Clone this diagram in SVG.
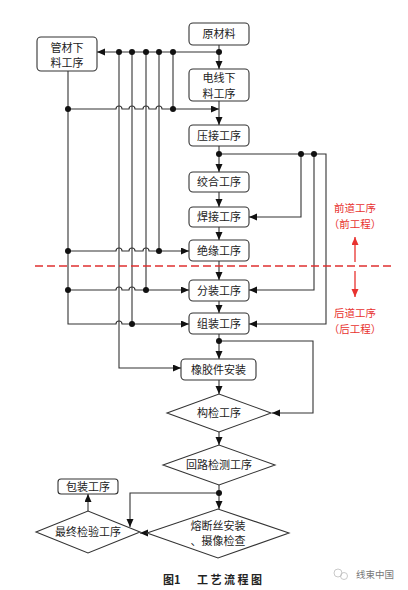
<svg xmlns="http://www.w3.org/2000/svg" width="408" height="590" viewBox="0 0 408 590">
<style>
.bx{fill:#fff;stroke:#333;stroke-width:1.1}
.t{font-family:"Noto Sans CJK SC","Noto Sans",sans-serif;font-size:11px;fill:#222;text-anchor:middle}
.ln{fill:none;stroke:#333;stroke-width:1.1}
.dot{fill:#111}
.red{font-family:"Noto Sans CJK SC","Noto Sans",sans-serif;font-size:10.5px;fill:#e8322f;text-anchor:middle}
</style>
<defs>
<marker id="a" markerUnits="userSpaceOnUse" markerWidth="9" markerHeight="8" refX="8" refY="3.5" orient="auto"><path d="M0,0 L8,3.5 L0,7 z" fill="#111"/></marker>
<marker id="ar" markerUnits="userSpaceOnUse" markerWidth="9" markerHeight="8" refX="8" refY="3.5" orient="auto"><path d="M0,0 L8,3.5 L0,7 z" fill="#e8322f"/></marker>
</defs>
<rect width="408" height="590" fill="#fff"/>

<g id="connectors">
<path class="ln" d="M219,45 V69" marker-end="url(#a)"/>
<path class="ln" d="M219,52 H97" marker-end="url(#a)"/>
<path class="ln" d="M119,52 V368 H181" marker-end="url(#a)"/>
<path class="ln" d="M132,52 V324"/>
<path class="ln" d="M146,52 V290"/>
<path class="ln" d="M159,52 V251"/>
<path class="ln" d="M173,52 V109"/>
<path class="ln" d="M68,71 V324 H116 A3,3 0 0 1 122,324 H189" marker-end="url(#a)"/>
<path class="ln" d="M68,109 H116 A3,3 0 0 1 122,109 H129 A3,3 0 0 1 135,109 H143 A3,3 0 0 1 149,109 H156 A3,3 0 0 1 162,109 H219" marker-end="url(#a)"/>
<path class="ln" d="M68,251 H116 A3,3 0 0 1 122,251 H129 A3,3 0 0 1 135,251 H143 A3,3 0 0 1 149,251 H189" marker-end="url(#a)"/>
<path class="ln" d="M68,290 H116 A3,3 0 0 1 122,290 H129 A3,3 0 0 1 135,290 H189" marker-end="url(#a)"/>
<path class="ln" d="M219,101 V125" marker-end="url(#a)"/>
<path class="ln" d="M219,146 V172" marker-end="url(#a)"/>
<path class="ln" d="M219,154 H326 V324 H249" marker-end="url(#a)"/>
<path class="ln" d="M301,154 V217 H249" marker-end="url(#a)"/>
<path class="ln" d="M314,154 V290 H249" marker-end="url(#a)"/>
<path class="ln" d="M219,192 V207" marker-end="url(#a)"/>
<path class="ln" d="M219,227 V240" marker-end="url(#a)"/>
<path class="ln" d="M219,261 V280" marker-end="url(#a)"/>
<path class="ln" d="M219,301 V313" marker-end="url(#a)"/>
<path class="ln" d="M219,334 V359" marker-end="url(#a)"/>
<path class="ln" d="M219,341 H313 V413 H272" marker-end="url(#a)"/>
<path class="ln" d="M219,380 V394" marker-end="url(#a)"/>
<path class="ln" d="M219,432 V445" marker-end="url(#a)"/>
<path class="ln" d="M219,485 V509" marker-end="url(#a)"/>
<path class="ln" d="M219,493 H130 V527" marker-end="url(#a)"/>
<path class="ln" d="M147,533 H140" marker-end="url(#a)"/>
<path class="ln" d="M88,511 V494" marker-end="url(#a)"/>
<g class="dot">
<circle cx="219" cy="52" r="3"/><circle cx="119" cy="52" r="3"/><circle cx="132" cy="52" r="3"/><circle cx="146" cy="52" r="3"/><circle cx="159" cy="52" r="3"/><circle cx="173" cy="52" r="3"/>
<circle cx="68" cy="109" r="3"/><circle cx="173" cy="109" r="3"/>
<circle cx="68" cy="251" r="3"/><circle cx="159" cy="251" r="3"/>
<circle cx="68" cy="290" r="3"/><circle cx="146" cy="290" r="3"/>
<circle cx="132" cy="324" r="3"/>
<circle cx="219" cy="154" r="3"/><circle cx="301" cy="154" r="3"/><circle cx="314" cy="154" r="3"/>
<circle cx="219" cy="341" r="3"/><circle cx="219" cy="493" r="3"/>
</g>
</g>

<g id="divider">
<line x1="35" y1="266" x2="394" y2="266" stroke="#e03030" stroke-width="1.3" stroke-dasharray="8,4"/>
<path d="M355,262 V237" stroke="#e8322f" stroke-width="1.3" fill="none" marker-end="url(#ar)"/>
<path d="M355,271 V297" stroke="#e8322f" stroke-width="1.3" fill="none" marker-end="url(#ar)"/>
<text class="red" x="355" y="212">前道工序</text>
<text class="red" x="355" y="228">（前工程）</text>
<text class="red" x="355" y="317">后道工序</text>
<text class="red" x="355" y="333">（后工程）</text>
</g>

<g id="n_raw"><rect class="bx" x="189" y="23" width="60" height="22" rx="4"/><text class="t" x="219" y="38">原材料</text></g>
<g id="n_pipe"><rect class="bx" x="37" y="37" width="60" height="34" rx="4"/><text class="t" x="67" y="51.5">管材下</text><text class="t" x="67" y="67">料工序</text></g>
<g id="n_wire"><rect class="bx" x="189" y="69" width="60" height="32" rx="4"/><text class="t" x="219" y="82">电线下</text><text class="t" x="219" y="97.5">料工序</text></g>
<g id="n_crimp"><rect class="bx" x="189" y="125" width="60" height="21" rx="4"/><text class="t" x="219" y="139.5">压接工序</text></g>
<g id="n_twist"><rect class="bx" x="189" y="172" width="60" height="20" rx="4"/><text class="t" x="219" y="186">绞合工序</text></g>
<g id="n_weld"><rect class="bx" x="189" y="207" width="60" height="20" rx="4"/><text class="t" x="219" y="221">焊接工序</text></g>
<g id="n_insul"><rect class="bx" x="189" y="240" width="60" height="21" rx="4"/><text class="t" x="219" y="254.5">绝缘工序</text></g>
<g id="n_sub"><rect class="bx" x="189" y="280" width="60" height="21" rx="4"/><text class="t" x="219" y="294.5">分装工序</text></g>
<g id="n_asm"><rect class="bx" x="189" y="313" width="60" height="21" rx="4"/><text class="t" x="219" y="327.5">组装工序</text></g>
<g id="n_rubber"><rect class="bx" x="181" y="359" width="75" height="21" rx="4"/><text class="t" x="218.5" y="373.5">橡胶件安装</text></g>
<g id="n_struct"><path class="bx" d="M167,413 L219,394 L271,413 L219,432 Z"/><text class="t" x="219" y="417">构检工序</text></g>
<g id="n_circuit"><path class="bx" d="M163,465 L219,445 L275,465 L219,485 Z"/><text class="t" x="219" y="469">回路检测工序</text></g>
<g id="n_fuse"><path class="bx" d="M147,533 L218,509 L289,533 L218,558 Z"/><text class="t" x="218" y="529.5">熔断丝安装</text><text class="t" x="218" y="545">、摄像检查</text></g>
<g id="n_final"><path class="bx" d="M36,532 L88,511 L140,532 L88,553 Z"/><text class="t" x="88" y="536">最终检验工序</text></g>
<g id="n_pack"><rect class="bx" x="58" y="479" width="60" height="15" rx="3"/><text class="t" x="88" y="490.5">包装工序</text></g>

<g id="caption">
<text x="163" y="584" style="font-family:'Noto Sans CJK SC',sans-serif;font-size:11px;font-weight:bold;fill:#222">图1<tspan x="197" letter-spacing="2.5">工艺流程图</tspan></text>
<circle cx="338" cy="573" r="4" fill="none" stroke="#bbb" stroke-width="0.8"/>
<circle cx="344" cy="576" r="3.5" fill="none" stroke="#bbb" stroke-width="0.8"/>
<text x="356" y="578" style="font-family:'Noto Sans CJK SC',sans-serif;font-size:9.5px;fill:#777">线束中国</text>
</g>
</svg>
